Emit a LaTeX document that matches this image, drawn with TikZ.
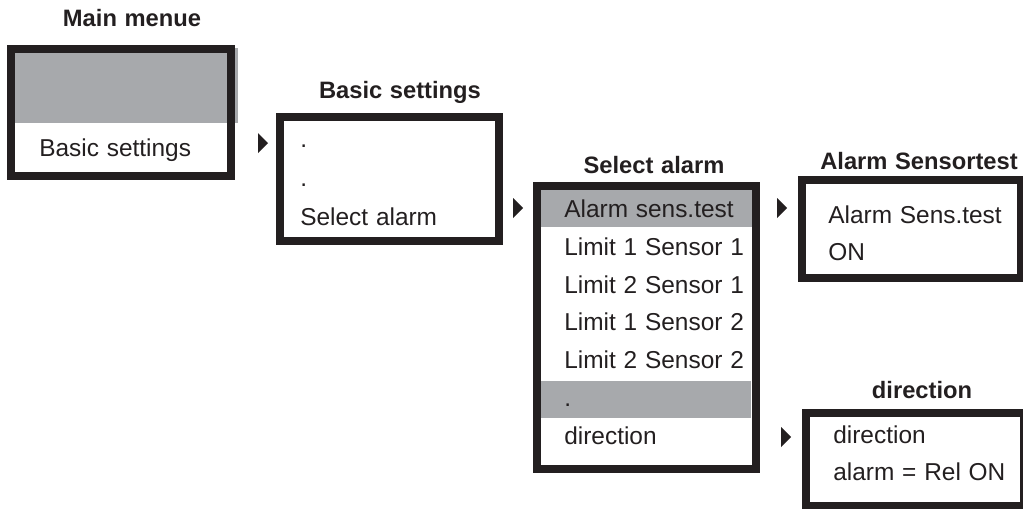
\documentclass[tikz,border=0pt]{standalone}
\usepackage{fontspec}
\setmainfont[WordSpace=1.15]{Liberation Sans}
\definecolor{ink}{RGB}{35,31,32}
\definecolor{hilite}{RGB}{167,169,172}
\begin{document}
\begin{tikzpicture}[x=0.02cm,y=-0.02cm,
  panel/.style={draw=ink, line width=0.16cm, inner sep=0pt},
  entry/.style={anchor=base west, inner sep=0pt, text=ink,
    font=\fontsize{13.9}{16}\selectfont},
  heading/.style={anchor=base, inner sep=0pt, text=ink,
    font=\fontsize{13.5}{16}\selectfont\bfseries},
  pointer/.pic={\fill[ink] (-10,-10) -- (0,0) -- (-10,10) -- cycle;}]
\useasboundingbox (0,0) rectangle (1023,508);
\clip (0,0) rectangle (1023,508);

% highlighted rows
\fill[hilite] (10,48) rectangle (238,123);
\fill[hilite] (541,190) rectangle (752,227);
\fill[hilite] (541,381) rectangle (751,418);

% menu panels
\node[panel, minimum width=4.40cm, minimum height=2.54cm] (main) at (121,112.5) {};
\node[panel, minimum width=4.38cm, minimum height=2.48cm] (basic) at (389.5,179) {};
\node[panel, minimum width=4.38cm, minimum height=5.66cm] (select) at (646.5,327.5) {};
\node[panel, minimum width=4.38cm, minimum height=1.96cm] (sensortest) at (911.5,229) {};
\node[panel, minimum width=4.36cm, minimum height=1.86cm] (direction) at (915,459.5) {};

% headings
\node[heading] (tmain) at (132,26) {Main menue};
\node[heading] (tbasic) at (400,98) {Basic settings};
\node[heading] (tselect) at (654,173) {Select alarm};
\node[heading] (tsens) at (919,169) {Alarm Sensortest};
\node[heading] (tdir) at (922,398) {direction};

% main menu
\node[entry] (m1) at (39,156) {Basic settings};

% basic settings
\node[entry] (b1) at (300,147) {.};
\node[entry] (b2) at (300,186) {.};
\node[entry] (b3) at (300,225) {Select alarm};

% select alarm
\node[entry] (s1) at (564,217.3) {Alarm sens.test};
\node[entry] (s2) at (564,255.2) {Limit 1 Sensor 1};
\node[entry] (s3) at (564,293) {Limit 2 Sensor 1};
\node[entry] (s4) at (564,330.8) {Limit 1 Sensor 2};
\node[entry] (s5) at (564,368.7) {Limit 2 Sensor 2};
\node[entry] (s6) at (564,406.5) {.};
\node[entry] (s7) at (564,444.3) {direction};

% alarm sensortest
\node[entry] (a1) at (828,223.3) {Alarm Sens.test};
\node[entry] (a2) at (828,260) {ON};

% direction
\node[entry] (d1) at (833,443.3) {direction};
\node[entry] (d2) at (833,480) {alarm = Rel ON};

% selection pointers
\coordinate (p1) at (268,143);
\coordinate (p2) at (523,208);
\coordinate (p3) at (787,208);
\coordinate (p4) at (791,437);
\foreach \p in {p1,p2,p3,p4} \pic at (\p) {pointer};
\end{tikzpicture}
\end{document}
